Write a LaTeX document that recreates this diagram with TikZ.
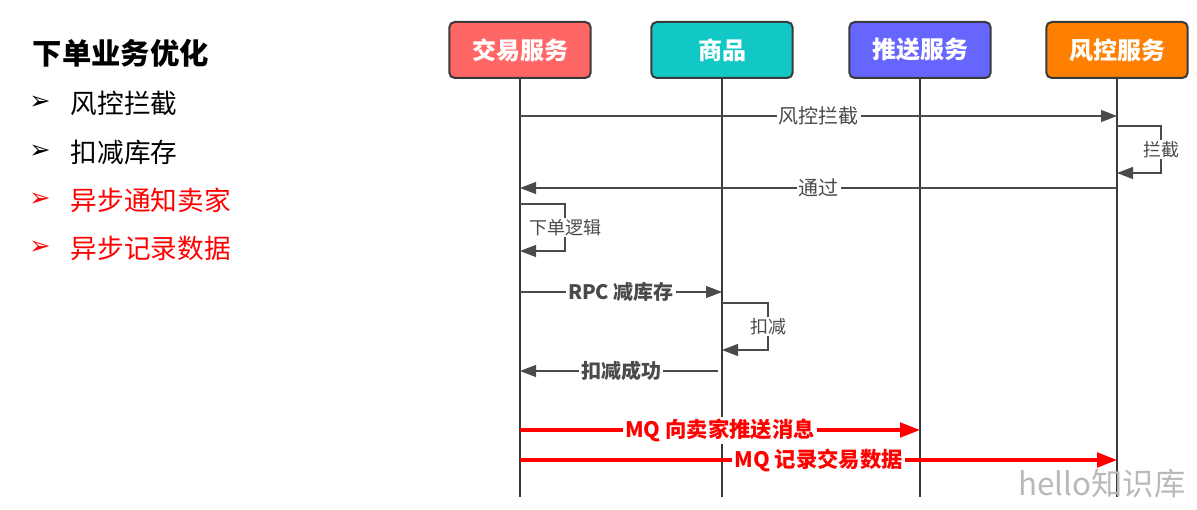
\documentclass[tikz,border=0pt]{standalone}
\usepackage{fontspec}
\setmainfont{Noto Sans CJK SC}
\newfontfamily\symfont{DejaVu Sans}
\usetikzlibrary{arrows.meta}
\definecolor{tradered}{HTML}{FF6666}
\definecolor{goodsteal}{HTML}{12C8C6}
\definecolor{pushblue}{HTML}{6666FF}
\definecolor{riskorange}{HTML}{FF8000}
\definecolor{linegray}{HTML}{4A4A4A}
\definecolor{edgegray}{HTML}{3A3A3A}
\definecolor{mqred}{HTML}{FF0000}

\tikzset{
  actor/.style={draw=edgegray,line width=1.5pt,rounded corners=4pt,
    minimum width=106pt,minimum height=42pt,text=white,
    font=\fontsize{18}{20}\selectfont\bfseries},
  life/.style={edgegray,line width=1.5pt},
  msg/.style={linegray,line width=.9pt,-{Triangle[length=12pt,width=9pt]}},
  mq/.style={mqred,line width=2.4pt,-{Triangle[length=15pt,width=11pt]}},
  msglabel/.style={fill=white,inner sep=1.5pt,font=\fontsize{15}{17}\selectfont},
  looplabel/.style={fill=white,inner sep=1pt,font=\fontsize{13.5}{15}\selectfont},
  mqlabel/.style={fill=white,inner sep=1.5pt,text=mqred,font=\fontsize{16}{18}\selectfont\bfseries},
  bullet/.style={font=\symfont\fontsize{19}{21}\selectfont},
  item/.style={anchor=west,font=\fontsize{20}{24}\selectfont}
}

\begin{document}
\begin{tikzpicture}[x=.75pt,y=-.75pt]
  \useasboundingbox (0,0) rectangle (1197,510);

  \node[anchor=west,font=\fontsize{22}{26}\selectfont\bfseries] (title) at (28,53) {下单业务优化};
  \node[bullet] (b1) at (40,103) {➢};
  \node[item] (i1) at (66,103) {风控拦截};
  \node[bullet] (b2) at (40,152) {➢};
  \node[item] (i2) at (66,152) {扣减库存};
  \node[bullet,text=mqred] (b3) at (40,200) {➢};
  \node[item,text=mqred] (i3) at (66,200) {异步通知卖家};
  \node[bullet,text=mqred] (b4) at (40,248) {➢};
  \node[item,text=mqred] (i4) at (66,248) {异步记录数据};

  \node[actor,fill=tradered] (trade) at (520,50) {交易服务};
  \node[actor,fill=goodsteal] (goods) at (722,50) {商品};
  \node[actor,fill=pushblue] (push) at (920,50) {推送服务};
  \node[actor,fill=riskorange] (risk) at (1117,50) {风控服务};

  \coordinate (bottom) at (0,497);
  \foreach \n in {trade,goods,push,risk}
    \draw[life] (\n.south) -- (\n.south |- bottom);

  \coordinate (y1) at (0,116);
  \coordinate (y2) at (0,126);
  \coordinate (y3) at (0,188);
  \coordinate (y4) at (0,204);
  \coordinate (y5) at (0,292);
  \coordinate (y6) at (0,303);
  \coordinate (y7) at (0,371);
  \coordinate (y8) at (0,430);
  \coordinate (y9) at (0,460);

  \draw[msg] (trade |- y1) -- node[msglabel] {风控拦截} (risk |- y1);
  \draw[msg] (risk |- y2) -- ++(44,0) -- node[looplabel] {拦截} ++(0,47) -- ++(-44,0);
  \draw[msg] (risk |- y3) -- node[msglabel] {通过} (trade |- y3);
  \draw[msg] (trade |- y4) -- ++(45,0) -- node[looplabel] {下单逻辑} ++(0,47) -- ++(-45,0);
  \draw[msg] (trade |- y5) -- node[msglabel,font=\fontsize{15}{17}\selectfont\bfseries] {RPC 减库存} (goods |- y5);
  \draw[msg] (goods |- y6) -- ++(46,0) -- node[looplabel] {扣减} ++(0,47) -- ++(-46,0);
  \draw[msg,shorten <=3pt] (goods |- y7) -- node[msglabel,font=\fontsize{15}{17}\selectfont\bfseries] {扣减成功} (trade |- y7);
  \draw[mq] (trade |- y8) -- node[mqlabel] {MQ 向卖家推送消息} (push |- y8);
  \draw[mq] (trade |- y9) -- node[mqlabel] {MQ 记录交易数据} (risk |- y9);

  \node[text=gray!55,font=\fontsize{23.5}{26}\selectfont] (mark) at (1102,484) {hello知识库};
\end{tikzpicture}
\end{document}
